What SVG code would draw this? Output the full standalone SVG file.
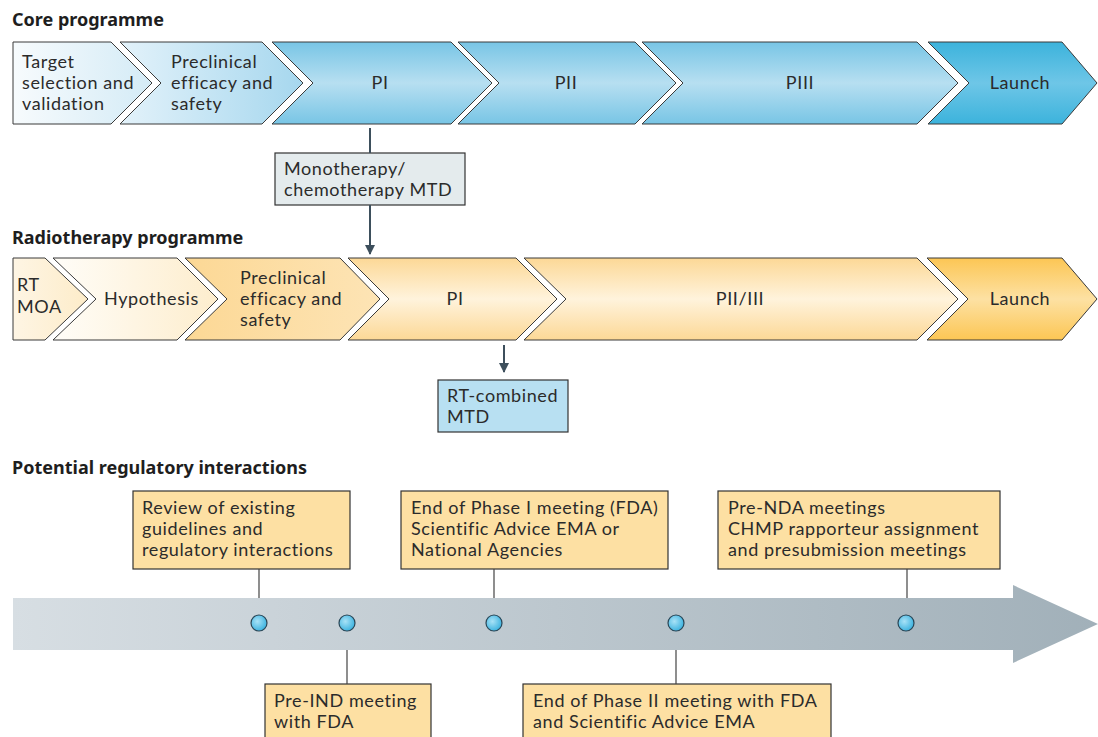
<svg xmlns="http://www.w3.org/2000/svg" width="1098" height="737" viewBox="0 0 1098 737">
<style>
.t{font-family:Lato,"Open Sans","Liberation Sans",sans-serif;font-size:18px;letter-spacing:0.6px;fill:#2b2b2b}
.h{font-family:"Noto Sans","Open Sans","Liberation Sans",sans-serif;font-size:18px;font-weight:bold;fill:#1e1e1e}
.c{text-anchor:middle}
.ch{stroke:#3a3a3a;stroke-width:1}
.box{fill:#fde0a3;stroke:#333;stroke-width:1.2}
.lk{stroke:#3d4f5c;stroke-width:2;fill:none}
.tl{stroke:#444;stroke-width:1.2;fill:none}
.dot{fill:url(#gDot);stroke:#2a4656;stroke-width:1.2}
</style>
<defs>
<linearGradient id="gTarget" x1="0" y1="0" x2="1" y2="0"><stop offset="0" stop-color="#f7fbfd"/><stop offset="1" stop-color="#d4ebf6"/></linearGradient>
<linearGradient id="gPre" x1="0" y1="0" x2="1" y2="0"><stop offset="0" stop-color="#e3f2fa"/><stop offset="1" stop-color="#a6d7ee"/></linearGradient>
<linearGradient id="gBlue" x1="0" y1="0" x2="0" y2="1"><stop offset="0" stop-color="#78c5e5"/><stop offset="0.5" stop-color="#b7dff1"/><stop offset="1" stop-color="#78c5e5"/></linearGradient>
<linearGradient id="gLaunchB" x1="0" y1="0" x2="0" y2="1"><stop offset="0" stop-color="#3cb3dc"/><stop offset="0.5" stop-color="#6ec6e7"/><stop offset="1" stop-color="#3cb3dc"/></linearGradient>
<linearGradient id="gRT" x1="0" y1="0" x2="1" y2="0"><stop offset="0" stop-color="#fef5e4"/><stop offset="1" stop-color="#fdecc9"/></linearGradient>
<linearGradient id="gHyp" x1="0" y1="0" x2="1" y2="0"><stop offset="0" stop-color="#fffdf8"/><stop offset="1" stop-color="#fdedcd"/></linearGradient>
<linearGradient id="gPreO" x1="0" y1="0" x2="1" y2="0"><stop offset="0" stop-color="#fcd895"/><stop offset="1" stop-color="#fde4b5"/></linearGradient>
<linearGradient id="gOr" x1="0" y1="0" x2="0" y2="1"><stop offset="0" stop-color="#fcd896"/><stop offset="0.5" stop-color="#fff3dc"/><stop offset="1" stop-color="#fcd896"/></linearGradient>
<linearGradient id="gLaunchO" x1="0" y1="0" x2="0" y2="1"><stop offset="0" stop-color="#fcc654"/><stop offset="0.5" stop-color="#fde1a3"/><stop offset="1" stop-color="#fcc654"/></linearGradient>
<linearGradient id="gBar" x1="0" y1="0" x2="1" y2="0"><stop offset="0" stop-color="#d7dee3"/><stop offset="1" stop-color="#a1b0b9"/></linearGradient>
<radialGradient id="gDot" cx="0.4" cy="0.4" r="0.6"><stop offset="0" stop-color="#a8e2f7"/><stop offset="1" stop-color="#40b4e0"/></radialGradient>
<marker id="ah" viewBox="0 0 10 10" refX="9" refY="5" markerWidth="5" markerHeight="5" orient="auto" markerUnits="strokeWidth"><path d="M0,0 L10,5 L0,10 z" fill="#3d4f5c"/></marker>
</defs>

<text class="h" x="12" y="26">Core programme</text>
<text class="h" x="12" y="244">Radiotherapy programme</text>
<text class="h" x="12" y="474">Potential regulatory interactions</text>

<!-- Core programme -->
<g id="core-target"><polygon class="ch" fill="url(#gTarget)" points="13,42 111,42 152,83 111,124 13,124"/>
<text class="t" x="22" y="68">Target</text><text class="t" x="22" y="89">selection and</text><text class="t" x="22" y="110">validation</text></g>
<g id="core-preclinical"><polygon class="ch" fill="url(#gPre)" points="120,42 262,42 303,83 262,124 120,124 161,83"/>
<text class="t" x="171" y="68">Preclinical</text><text class="t" x="171" y="89">efficacy and</text><text class="t" x="171" y="110">safety</text></g>
<g id="core-pi"><polygon class="ch" fill="url(#gBlue)" points="272,42 451,42 492,83 451,124 272,124 313,83"/>
<text class="t c" x="380" y="89">PI</text></g>
<g id="core-pii"><polygon class="ch" fill="url(#gBlue)" points="458,42 635,42 676,83 635,124 458,124 499,83"/>
<text class="t c" x="566" y="89">PII</text></g>
<g id="core-piii"><polygon class="ch" fill="url(#gBlue)" points="642,42 917,42 958,83 917,124 642,124 683,83"/>
<text class="t c" x="800" y="89">PIII</text></g>
<g id="core-launch"><polygon class="ch" fill="url(#gLaunchB)" points="928,42 1062,42 1097,83 1062,124 928,124 969,83"/>
<text class="t c" x="1020" y="89">Launch</text></g>

<g id="mono-mtd"><rect x="275" y="153" width="190" height="52" fill="#e4ebed" stroke="#333" stroke-width="1.2"/>
<text class="t" x="284" y="175">Monotherapy/</text><text class="t" x="284" y="196">chemotherapy MTD</text></g>

<!-- Radiotherapy programme -->
<g id="rt-moa"><polygon class="ch" fill="url(#gRT)" points="13,258 45,258 88,299 45,340 13,340"/>
<text class="t" x="17" y="291">RT</text><text class="t" x="17" y="313">MOA</text></g>
<g id="rt-hypothesis"><polygon class="ch" fill="url(#gHyp)" points="53,258 177,258 218,299 177,340 53,340 96,299"/>
<text class="t" x="104" y="305">Hypothesis</text></g>
<g id="rt-preclinical"><polygon class="ch" fill="url(#gPreO)" points="185,258 340,258 380,299 340,340 185,340 227,299"/>
<text class="t" x="240" y="284">Preclinical</text><text class="t" x="240" y="305">efficacy and</text><text class="t" x="240" y="326">safety</text></g>
<g id="rt-pi"><polygon class="ch" fill="url(#gOr)" points="348,258 516,258 557,299 516,340 348,340 389,299"/>
<text class="t c" x="455" y="305">PI</text></g>
<g id="rt-piiiii"><polygon class="ch" fill="url(#gOr)" points="524,258 917,258 958,299 917,340 524,340 566,299"/>
<text class="t c" x="740" y="305">PII/III</text></g>
<g id="rt-launch"><polygon class="ch" fill="url(#gLaunchO)" points="927,258 1062,258 1097,299 1062,340 927,340 968,299"/>
<text class="t c" x="1020" y="305">Launch</text></g>

<g id="rt-mtd"><rect x="438" y="380" width="130" height="52" fill="#b8e0f2" stroke="#333" stroke-width="1.2"/>
<text class="t" x="447" y="402">RT-combined</text><text class="t" x="447" y="423">MTD</text></g>

<!-- Timeline -->
<g id="timeline"><polygon fill="url(#gBar)" points="13,598 1013,598 1013,585 1098,624 1013,663 1013,650 13,650"/></g>

<g id="reg-review"><rect class="box" x="133" y="491" width="217" height="78"/>
<text class="t" x="142" y="514">Review of existing</text><text class="t" x="142" y="535">guidelines and</text><text class="t" x="142" y="556">regulatory interactions</text></g>
<g id="reg-eop1"><rect class="box" x="401" y="491" width="267" height="78"/>
<text class="t" x="411" y="514">End of Phase I meeting (FDA)</text><text class="t" x="411" y="535">Scientific Advice EMA or</text><text class="t" x="411" y="556">National Agencies</text></g>
<g id="reg-prenda"><rect class="box" x="718" y="491" width="282" height="78"/>
<text class="t" x="728" y="514">Pre-NDA meetings</text><text class="t" x="728" y="535">CHMP rapporteur assignment</text><text class="t" x="728" y="556">and presubmission meetings</text></g>
<g id="reg-preind"><rect class="box" x="265" y="684" width="166" height="60"/>
<text class="t" x="274" y="707">Pre-IND meeting</text><text class="t" x="274" y="728">with FDA</text></g>
<g id="reg-eop2"><rect class="box" x="523" y="684" width="308" height="60"/>
<text class="t" x="533" y="707">End of Phase II meeting with FDA</text><text class="t" x="533" y="728">and Scientific Advice EMA</text></g>

<g id="connectors">
<line class="lk" x1="370" y1="128" x2="370" y2="153"/>
<line class="lk" x1="370" y1="205" x2="370" y2="254" marker-end="url(#ah)"/>
<line class="lk" x1="504" y1="345" x2="504" y2="372" marker-end="url(#ah)"/>
<line class="tl" x1="259" y1="569" x2="259" y2="598"/>
<line class="tl" x1="494" y1="569" x2="494" y2="598"/>
<line class="tl" x1="907" y1="569" x2="907" y2="598"/>
<line class="tl" x1="347" y1="650" x2="347" y2="684"/>
<line class="tl" x1="676" y1="650" x2="676" y2="684"/>
</g>

<g id="dots">
<circle class="dot" cx="259" cy="623" r="8"/>
<circle class="dot" cx="347" cy="623" r="8"/>
<circle class="dot" cx="494" cy="623" r="8"/>
<circle class="dot" cx="676" cy="623" r="8"/>
<circle class="dot" cx="906" cy="623" r="8"/>
</g>
</svg>
